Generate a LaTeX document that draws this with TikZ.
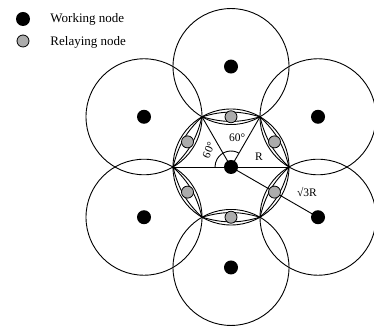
\documentclass[tikz,border=0pt]{standalone}
\usepackage{fontspec}
\setmainfont{Liberation Serif}
\usetikzlibrary{calc}
\begin{document}
\begin{tikzpicture}[x=1pt,y=1pt, line width=0.9pt,
  working/.style={circle,fill=black,inner sep=0pt,minimum size=14pt},
  relay/.style={circle,draw=black,line width=0.8pt,fill=gray!65,inner sep=0pt,minimum size=12pt},
  lbl/.style={font=\fontsize{11.5}{13}\selectfont,inner sep=0.5pt},
  legtext/.style={font=\fontsize{13}{15}\selectfont,anchor=west,inner sep=0pt}]
\useasboundingbox (0,0) rectangle (374,331);
\def\R{58}
\coordinate (C) at (231,164);
\foreach \i in {0,...,5} \coordinate (v\i) at ([shift={(\i*60:\R)}]C);
% working nodes and their ranges
\foreach \i in {0,...,5} {
  \coordinate (wc\i) at ([shift={(30+\i*60:100.46)}]C);
  \draw (wc\i) circle (\R);
}
\draw (C) circle (\R);
% inner lenses
\foreach \i/\j in {0/1,1/2,2/3,3/4,4/5,5/0}
  \draw (v\i) to[bend left=16] (v\j) to[bend left=16] (v\i);
% construction lines
\draw (v3) -- (v0);
\draw (v1) -- (C) -- (v2);
\draw (C) -- (wc5);
\draw ([shift={(60:16)}]C) arc[start angle=60,end angle=180,radius=16];
% nodes
\foreach \i in {0,...,5} {
  \node[working] (w\i) at (wc\i) {};
  \node[relay] (r\i) at ([shift={(30+\i*60:50.23)}]C) {};
}
\node[working] (c) at (C) {};
% labels
\node[lbl] (a1) at ([shift={(78:30)}]C) {60°};
\node[lbl,rotate=66] (a2) at ([shift={(143:28)}]C) {60°};
\node[lbl] (lr) at ([shift={(28,10)}]C) {R};
\node[lbl] (ls) at ([shift={(76,-25)}]C) {√3R};
% legend
\node[working] (lw) at (23,312) {};
\node[relay] (lrn) at (23,290) {};
\node[legtext] (tw) at (50,312) {Working node};
\node[legtext] (tr) at (50,289) {Relaying node};
\end{tikzpicture}
\end{document}
